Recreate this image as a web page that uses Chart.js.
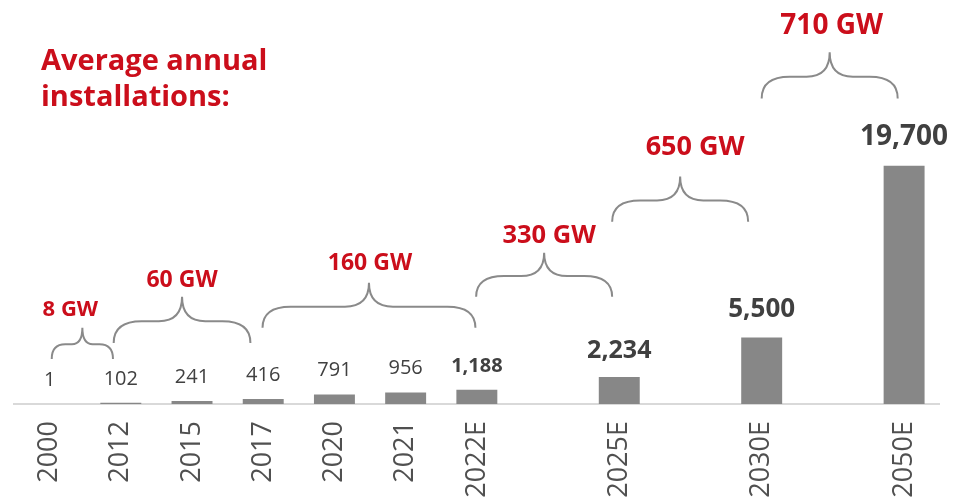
<!DOCTYPE html>
<html>
<head>
<meta charset="utf-8">
<script src="https://cdn.jsdelivr.net/npm/chart.js@4.4.0/dist/chart.umd.min.js"></script>
<style>
  html, body { margin: 0; padding: 0; background: #fff; }
  #wrap { width: 954px; height: 497px; overflow: hidden; }
</style>
</head>
<body>
<div id="wrap"><canvas id="myChart" width="954" height="497"></canvas></div>
<script>
// data
const categories = ['2000', '2012', '2015', '2017', '2020', '2021', '2022E', '', '2025E', '', '2030E', '', '2050E'];
const installed = [1, 102, 241, 416, 791, 956, 1188, null, 2234, null, 5500, null, 19700];
const braceLabels = ['8 GW', '60 GW', '160 GW', '330 GW', '650 GW', '710 GW'];
const braceFrom = [0, 1, 3, 6, 8, 10];   // category index where the period starts
const braceTo = [1, 3, 6, 8, 10, 12];    // category index where it ends

const RED = '#CB0E1B';
const TEXT = '#404040';

// look of the braces (offsets in category units, levels in y-units, text in px)
const braceLook = [
  { a: 0.03, b: -0.11, base: 3726, top: 6293, size: 22, dx: -12, gap: 12 },
  { a: -0.1, b: -0.18, base: 5051, top: 8860, size: 23, dx: 0, gap: 10 },
  { a: -0.01, b: -0.02, base: 6293, top: 10019, size: 23, dx: 1, gap: 13 },
  { a: -0.01, b: -0.1, base: 8860, top: 12503, size: 25.5, dx: 5, gap: 10 },
  { a: -0.1, b: -0.19, base: 15070, top: 18796, size: 27, dx: 15, gap: 22 },
  { a: 0, b: -0.09, base: 25254, top: 29063, size: 28, dx: 2, gap: 18 }
];

function labelLook(i) {
  if (i < 6) return { font: 'normal 20px "Open Sans"', gap: 18 };
  if (i === 6) return { font: 'bold 20px "Open Sans"', gap: 18 };
  if (i === 8) return { font: 'bold 25px "Open Sans"', gap: 19 };
  if (i === 10) return { font: 'bold 26px "Open Sans"', gap: 20 };
  return { font: 'bold 28px "Open Sans"', gap: 21 };
}

function drawBrace(ctx, xa, xb, yb, yp) {
  const xm = (xa + xb) / 2;
  const ym = yb - (yb - yp) * 0.47;
  const r = Math.min(28, (xb - xa) * 0.22);
  const s = Math.min(24, (xb - xa) * 0.17);
  ctx.beginPath();
  ctx.moveTo(xa, yb);
  ctx.quadraticCurveTo(xa, ym, xa + r, ym);
  ctx.lineTo(xm - s, ym);
  ctx.quadraticCurveTo(xm, ym, xm, yp);
  ctx.quadraticCurveTo(xm, ym, xm + s, ym);
  ctx.lineTo(xb - r, ym);
  ctx.quadraticCurveTo(xb, ym, xb, yb);
  ctx.stroke();
}

const extras = {
  id: 'extras',
  afterDatasetsDraw(chart) {
    const ctx = chart.ctx;
    const x = chart.scales.x;
    const y = chart.scales.y;
    ctx.save();

    // value labels above bars
    ctx.textAlign = 'center';
    ctx.textBaseline = 'alphabetic';
    ctx.fillStyle = TEXT;
    chart.getDatasetMeta(0).data.forEach((bar, i) => {
      if (installed[i] == null) return;
      const look = labelLook(i);
      ctx.font = look.font;
      ctx.fillText(installed[i].toLocaleString('en-US'), bar.x, bar.y - look.gap);
    });

    // braces with average annual installations
    ctx.strokeStyle = '#8a8a8a';
    ctx.lineWidth = 2;
    braceLabels.forEach((txt, k) => {
      const lk = braceLook[k];
      const xa = x.getPixelForValue(braceFrom[k] + lk.a);
      const xb = x.getPixelForValue(braceTo[k] + lk.b);
      const yb = y.getPixelForValue(lk.base);
      const yp = y.getPixelForValue(lk.top);
      drawBrace(ctx, xa, xb, yb, yp);
      ctx.fillStyle = RED;
      ctx.font = 'bold ' + lk.size + 'px "Open Sans"';
      ctx.fillText(txt, (xa + xb) / 2 + lk.dx, yp - lk.gap);
    });

    // heading
    ctx.textAlign = 'left';
    ctx.fillStyle = RED;
    ctx.font = 'bold 29px "Open Sans"';
    ctx.fillText('Average annual', 41, 70);
    ctx.fillText('installations:', 41, 106);
    ctx.restore();
  }
};

const ctx = document.getElementById('myChart');

new Chart(ctx, {
  type: 'bar',
  data: {
    labels: categories,
    datasets: [{
      data: installed,
      backgroundColor: '#878787',
      borderWidth: 0,
      barPercentage: 0.575,
      categoryPercentage: 1
    }]
  },
  options: {
    responsive: false,
    animation: false,
    layout: { padding: { top: 162, left: 14, right: 13, bottom: 0 } },
    plugins: {
      legend: { display: false },
      tooltip: { enabled: false }
    },
    scales: {
      x: {
        grid: { display: false, drawTicks: false },
        border: { display: true, color: '#d9d9d9', width: 2 },
        ticks: {
          color: '#505050',
          font: { family: 'Open Sans', size: 27 },
          minRotation: 90,
          maxRotation: 90,
          autoSkip: false,
          padding: 17
        },
        afterFit(scale) { scale.height = 93; }
      },
      y: {
        display: false,
        min: 0,
        max: 20000
      }
    }
  },
  plugins: [extras]
});
</script>
</body>
</html>
